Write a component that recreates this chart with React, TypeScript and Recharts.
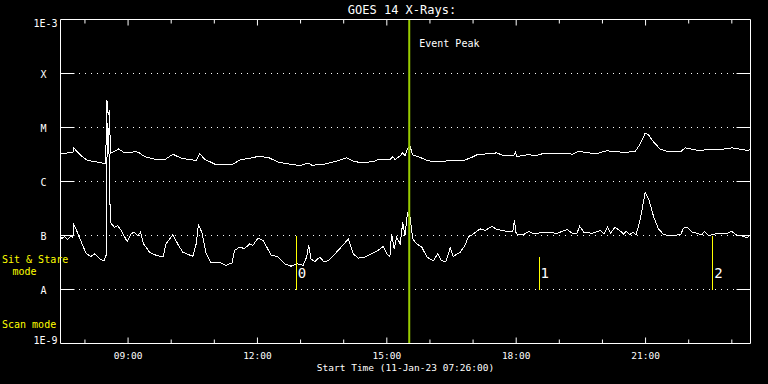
import { LineChart, Line, XAxis, YAxis, ReferenceLine } from "recharts"

// GOES 14 X-ray flux, 11-Jan-23. Time in decimal hours, flux in W/m^2
const longTimes = [
  7.43, 7.53, 7.6, 7.72, 7.74, 7.91, 8.06, 8.3, 8.48, 8.51, 8.54, 8.57, 8.59, 8.78, 8.92, 9.07, 9.16, 9.26,
  9.38, 9.61, 9.84, 10.04, 10.23, 10.58, 10.66, 10.77, 11.01, 11.24, 11.43, 11.59, 11.82, 12.01, 12.25,
  12.47, 12.78, 12.99, 13.18, 13.26, 13.53, 13.84, 14.07, 14.22, 14.42, 14.69, 14.84, 15.07, 15.14, 15.19,
  15.31, 15.37, 15.42, 15.48, 15.54, 15.6, 15.77, 15.93, 16.16, 16.39, 16.47, 16.78, 16.97, 17.12, 17.4,
  17.55, 17.7, 17.94, 17.98, 18.02, 18.29, 18.44, 18.6, 19.18, 19.3, 19.45, 19.64, 19.87, 20.1, 20.3, 20.49,
  20.76, 20.88, 20.99, 21.07, 21.19, 21.34, 21.5, 21.81, 21.92, 22.12, 22.27, 22.39, 22.74, 23.01, 23.24,
  23.36, 23.43,
]
const longFlux = [
  3.3e-6, 3.3e-6, 3.4e-6, 3.4e-6, 4.2e-6, 3.0e-6, 2.45e-6, 2.28e-6, 2.13e-6, 3.2e-5, 1.7e-5, 2.1e-5, 3.3e-6,
  4.0e-6, 3.4e-6, 3.4e-6, 3.6e-6, 3.4e-6, 2.9e-6, 2.6e-6, 2.5e-6, 3.2e-6, 2.7e-6, 2.45e-6, 3.3e-6, 2.6e-6,
  2.1e-6, 2.04e-6, 2.1e-6, 2.5e-6, 2.7e-6, 2.9e-6, 2.8e-6, 2.3e-6, 2.07e-6, 1.98e-6, 2.2e-6, 2.0e-6, 2.07e-6,
  2.4e-6, 2.75e-6, 2.4e-6, 2.2e-6, 2.35e-6, 2.6e-6, 2.5e-6, 2.9e-6, 2.55e-6, 3.0e-6, 3.4e-6, 3.0e-6, 4.1e-6,
  4.45e-6, 3.1e-6, 2.8e-6, 2.45e-6, 2.3e-6, 2.4e-6, 2.5e-6, 2.45e-6, 2.8e-6, 3.2e-6, 3.25e-6, 3.4e-6, 3.0e-6,
  3.0e-6, 3.5e-6, 2.9e-6, 3.16e-6, 3.0e-6, 3.25e-6, 3.3e-6, 3.2e-6, 3.65e-6, 3.4e-6, 3.3e-6, 3.7e-6, 3.6e-6,
  3.44e-6, 3.6e-6, 5.0e-6, 7.8e-6, 7.3e-6, 5.3e-6, 4.0e-6, 3.6e-6, 3.55e-6, 4.2e-6, 3.9e-6, 3.7e-6, 3.9e-6,
  3.9e-6, 4.2e-6, 3.9e-6, 3.75e-6, 3.9e-6,
]

const shortTimes = [
  7.43, 7.46, 7.53, 7.6, 7.67, 7.72, 7.74, 7.79, 7.87, 7.95, 8.03, 8.14, 8.23, 8.34, 8.44, 8.49, 8.51, 8.52,
  8.55, 8.57, 8.59, 8.68, 8.76, 8.84, 8.98, 9.07, 9.13, 9.23, 9.29, 9.36, 9.5, 9.65, 9.81, 9.88, 10.04, 10.15,
  10.27, 10.5, 10.58, 10.63, 10.71, 10.81, 10.93, 11.16, 11.27, 11.41, 11.47, 11.59, 11.7, 11.82, 11.89,
  12.01, 12.13, 12.32, 12.46, 12.63, 12.78, 12.91, 13.06, 13.14, 13.19, 13.24, 13.33, 13.45, 13.53, 13.64,
  13.8, 13.91, 14.11, 14.22, 14.34, 14.49, 14.65, 14.8, 14.92, 15.0, 15.07, 15.11, 15.17, 15.23, 15.31,
  15.37, 15.42, 15.48, 15.54, 15.6, 15.69, 15.81, 15.93, 16.08, 16.18, 16.27, 16.37, 16.47, 16.54, 16.7,
  16.81, 16.89, 17.01, 17.16, 17.28, 17.44, 17.55, 17.78, 17.92, 17.96, 18.0, 18.17, 18.29, 18.41, 18.64,
  18.95, 19.18, 19.3, 19.41, 19.47, 19.57, 19.76, 19.95, 20.03, 20.12, 20.19, 20.29, 20.42, 20.49, 20.55,
  20.63, 20.71, 20.78, 20.88, 20.99, 21.07, 21.19, 21.3, 21.42, 21.53, 21.81, 21.88, 21.96, 22.08, 22.19,
  22.31, 22.36, 22.46, 22.62, 22.89, 23.0, 23.12, 23.27, 23.35, 23.43,
]
const shortFlux = [
  1.0e-7, 8.8e-8, 9.6e-8, 8.4e-8, 9.6e-8, 9.2e-8, 1.58e-7, 1.33e-7, 9.3e-8, 6.5e-8, 4.6e-8, 4.1e-8, 4.6e-8,
  3.7e-8, 3.4e-8, 4.3e-8, 2.0e-6, 1.2e-5, 8.0e-6, 1.0e-6, 1.76e-7, 1.42e-7, 1.53e-7, 1.24e-7, 7.7e-8,
  1.07e-7, 1.15e-7, 1.0e-7, 1.15e-7, 7.0e-8, 4.9e-8, 4.3e-8, 4.0e-8, 7.0e-8, 1.04e-7, 7.0e-8, 4.9e-8, 4.1e-8,
  7.0e-8, 1.58e-7, 1.15e-7, 4.6e-8, 3.1e-8, 3.1e-8, 2.8e-8, 3.1e-8, 5.3e-8, 6.1e-8, 5.7e-8, 7.0e-8, 6.5e-8,
  8.9e-8, 8.1e-8, 4.3e-8, 4.1e-8, 3.0e-8, 2.7e-8, 3.0e-8, 2.8e-8, 4.0e-8, 6.7e-8, 3.7e-8, 3.3e-8, 4.0e-8,
  3.3e-8, 3.4e-8, 4.6e-8, 5.7e-8, 8.7e-8, 4.6e-8, 3.8e-8, 4.0e-8, 4.6e-8, 5.3e-8, 6.3e-8, 4.6e-8, 4.0e-8,
  1.07e-7, 5.7e-8, 9.3e-8, 7.0e-8, 1.76e-7, 1.0e-7, 2.63e-7, 2.18e-7, 8.7e-8, 7.0e-8, 6.1e-8, 4.0e-8, 3.4e-8,
  4.6e-8, 3.4e-8, 3.3e-8, 5.9e-8, 4.1e-8, 4.9e-8, 6.5e-8, 9.3e-8, 1.07e-7, 1.33e-7, 1.24e-7, 1.47e-7,
  1.29e-7, 1.2e-7, 1.19e-7, 1.9e-7, 1.07e-7, 1.04e-7, 1.19e-7, 1.07e-7, 1.15e-7, 1.1e-7, 1.29e-7, 1.1e-7,
  1.1e-7, 1.49e-7, 1.15e-7, 1.1e-7, 1.24e-7, 1.07e-7, 1.42e-7, 1.1e-7, 1.42e-7, 1.2e-7, 1.07e-7, 1.2e-7,
  1.03e-7, 1.15e-7, 1.03e-7, 2.04e-7, 6.2e-7, 4.8e-7, 2.18e-7, 1.33e-7, 1.04e-7, 1.0e-7, 1.03e-7, 1.37e-7,
  1.42e-7, 1.15e-7, 1.1e-7, 1.03e-7, 1.19e-7, 1.0e-7, 1.07e-7, 1.1e-7, 1.19e-7, 1.0e-7, 9.7e-8, 9.1e-8,
  1.03e-7,
]

const yTicks = [1e-9, 1e-8, 1e-7, 1e-6, 1e-5, 1e-4, 1e-3]
const yTickLabels = ["1E-9", "A", "B", "C", "M", "X", "1E-3"]
const classLevels = [1e-8, 1e-7, 1e-6, 1e-5, 1e-4]

const xTicks = [8, 9, 10, 11, 12, 13, 14, 15, 16, 17, 18, 19, 20, 21, 22, 23]
const xTickLabels = ["", "09:00", "", "", "12:00", "", "", "15:00", "", "", "18:00", "", "", "21:00", "", ""]

const startHour = 7 + 26 / 60 // 07:26
const endHour = startHour + 16

const eventPeak = 15.52
const markerTimes = [12.9, 18.53, 22.56]
const markerTops = [1e-7, 4e-8, 1e-7]
const markerLabels = ["0", "1", "2"]

const FONT = '"DejaVu Sans Mono", monospace'
const WHITE = "#ffffff"
const YELLOW = "#ffff00"

const longData = longTimes.map((t, i) => ({ t, flux: longFlux[i] }))
const shortData = shortTimes.map((t, i) => ({ t, flux: shortFlux[i] }))

function BottomTick({ x, y, index }: any) {
  const label = xTickLabels[index]
  return (
    <g>
      <line x1={x} x2={x} y1={y} y2={y - (label ? 6 : 4)} stroke={WHITE} />
      {label && (
        <text x={x} y={y + 12} textAnchor="middle" dominantBaseline="central" fill={WHITE} fontSize={9.5} fontFamily={FONT}>
          {label}
        </text>
      )}
    </g>
  )
}

function TopTick({ x, y, index }: any) {
  const major = xTickLabels[index] !== ""
  return <line x1={x} x2={x} y1={y} y2={y + (major ? 6 : 4)} stroke={WHITE} />
}

function LeftTick({ x, y, index }: any) {
  const label = yTickLabels[index]
  const edge = index === 0 || index === yTicks.length - 1
  if (edge) {
    return (
      <text x={x - 3} y={y + (index === 0 ? -3.5 : 4)} textAnchor="end" dominantBaseline="central" fill={WHITE} fontSize={10} fontFamily={FONT}>
        {label}
      </text>
    )
  }
  return (
    <g>
      <line x1={x} x2={x + 14} y1={y} y2={y} stroke={WHITE} />
      <text x={x - 17} y={y + 1.3} textAnchor="middle" dominantBaseline="central" fill={WHITE} fontSize={10} fontFamily={FONT}>
        {label}
      </text>
    </g>
  )
}

function RightTick({ x, y, index }: any) {
  if (index === 0 || index === yTicks.length - 1) return <g />
  return <line x1={x} x2={x - 14} y1={y} y2={y} stroke={WHITE} />
}

function AxisTitle({ viewBox }: any) {
  return (
    <text x={viewBox.x + viewBox.width / 2} y={viewBox.y + 24.2} textAnchor="middle" dominantBaseline="central" fill={WHITE} fontSize={9.5} fontFamily={FONT}>
      Start Time (11-Jan-23 07:26:00)
    </text>
  )
}

function PeakLabel({ viewBox }: any) {
  return (
    <text x={viewBox.x + 10} y={viewBox.y + 23.5} dominantBaseline="central" fill={WHITE} fontSize={10} fontFamily={FONT}>
      Event Peak
    </text>
  )
}

function MarkerLabel({ viewBox, text }: any) {
  return (
    <text x={viewBox.x + 1.5} y={viewBox.y + viewBox.height - 17} dominantBaseline="central" fill={WHITE} fontSize={14} fontFamily={FONT}>
      {text}
    </text>
  )
}

export default function App() {
  return (
    <div style={{ position: "absolute", left: 0, top: 0, width: 768, height: 384, background: "#000" }}>
      <LineChart width={768} height={384} margin={{ top: 18.5, right: 0, bottom: 0, left: 0 }}>
        <XAxis
          dataKey="t"
          type="number"
          domain={[startHour, endHour]}
          allowDataOverflow
          ticks={xTicks}
          interval={0}
          height={40.5}
          tickSize={0}
          tickMargin={0}
          tickLine={false}
          axisLine={{ stroke: WHITE }}
          tick={<BottomTick />}
          label={<AxisTitle />}
        />
        <XAxis
          xAxisId="top"
          orientation="top"
          dataKey="t"
          type="number"
          domain={[startHour, endHour]}
          allowDataOverflow
          ticks={xTicks}
          interval={0}
          height={1}
          tickSize={0}
          tickMargin={0}
          tickLine={false}
          axisLine={{ stroke: WHITE }}
          tick={<TopTick />}
        />
        <YAxis
          type="number"
          scale="log"
          domain={[1e-9, 1e-3]}
          allowDataOverflow
          ticks={yTicks}
          interval={0}
          width={60.5}
          tickSize={0}
          tickMargin={0}
          tickLine={false}
          axisLine={{ stroke: WHITE }}
          tick={<LeftTick />}
        />
        <YAxis
          yAxisId="right"
          orientation="right"
          type="number"
          scale="log"
          domain={[1e-9, 1e-3]}
          allowDataOverflow
          ticks={yTicks}
          interval={0}
          width={17.5}
          tickSize={0}
          tickMargin={0}
          tickLine={false}
          axisLine={{ stroke: WHITE }}
          tick={<RightTick />}
        />
        {classLevels.map((v) => (
          <ReferenceLine key={v} y={v} stroke={WHITE} strokeDasharray="1 5" shapeRendering="crispEdges" />
        ))}
        <Line data={longData} dataKey="flux" type="linear" stroke={WHITE} strokeWidth={1} dot={false} activeDot={false} shapeRendering="crispEdges" isAnimationActive={false} />
        <Line data={shortData} dataKey="flux" type="linear" stroke={WHITE} strokeWidth={1} dot={false} activeDot={false} shapeRendering="crispEdges" isAnimationActive={false} />
        {markerTimes.map((t, i) => (
          <ReferenceLine
            key={t}
            segment={[
              { x: t, y: markerTops[i] },
              { x: t, y: 1e-8 },
            ]}
            stroke={YELLOW}
            strokeWidth={1}
            shapeRendering="crispEdges"
            label={<MarkerLabel text={markerLabels[i]} />}
          />
        ))}
        <ReferenceLine x={eventPeak} stroke="#99cc00" strokeWidth={2} label={<PeakLabel />} />
      </LineChart>
      <svg width={768} height={384} style={{ position: "absolute", left: 0, top: 0, pointerEvents: "none" }} fontFamily={FONT}>
        <text x={402} y={9.5} textAnchor="middle" dominantBaseline="central" fill={WHITE} fontSize={12}>
          GOES 14 X-Rays:
        </text>
        <text x={2} y={259} dominantBaseline="central" fill={YELLOW} fontSize={10}>
          Sit &amp; Stare
        </text>
        <text x={24.5} y={271} textAnchor="middle" dominantBaseline="central" fill={YELLOW} fontSize={10}>
          mode
        </text>
        <text x={2} y={324} dominantBaseline="central" fill={YELLOW} fontSize={10}>
          Scan mode
        </text>
      </svg>
    </div>
  )
}
